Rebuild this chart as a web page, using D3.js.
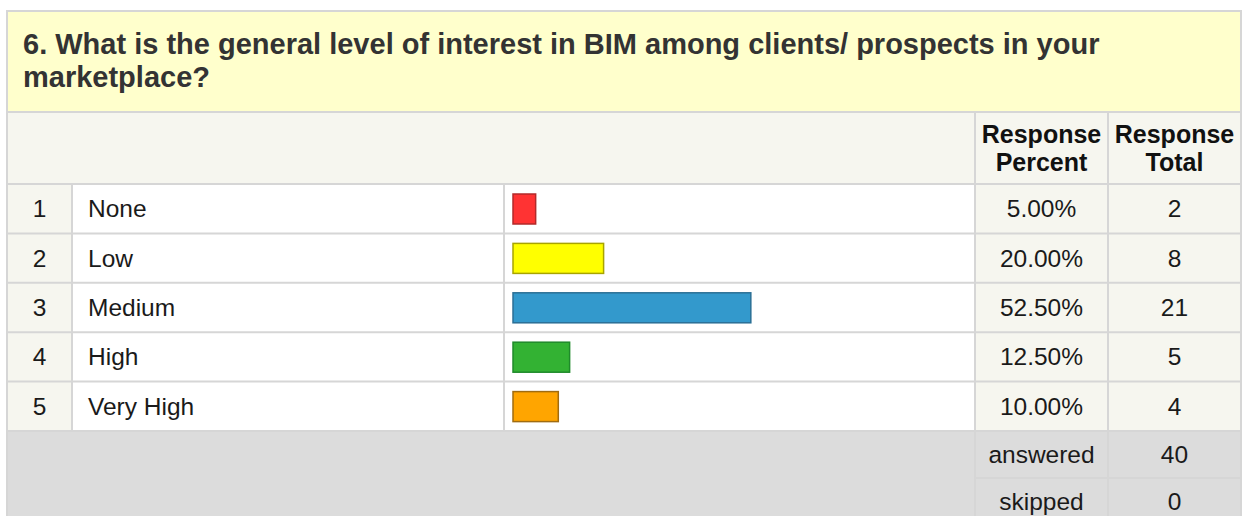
<!DOCTYPE html>
<html><head><meta charset="utf-8">
<script src="https://cdn.jsdelivr.net/npm/d3@7"></script>
<style>html,body{margin:0;padding:0;background:#fff;} svg{display:block;}</style>
</head><body>
<script>
// ---- data ----
const titleLines = ["6. What is the general level of interest in BIM among clients/ prospects in your", "marketplace?"];
const headerPercent = ["Response", "Percent"];
const headerTotal = ["Response", "Total"];
const rowNumbers = [1, 2, 3, 4, 5];
const categories = ["None", "Low", "Medium", "High", "Very High"];
const percents = [5.00, 20.00, 52.50, 12.50, 10.00];
const totals = [2, 8, 21, 5, 4];
const barColors = ["#ff3333", "#ffff00", "#3399cc", "#33b233", "#ffa500"];
const barStrokes = ["#b22a2a", "#a8a400", "#2b6f95", "#1f8a2a", "#a06c10"];
const summaryLabels = ["answered", "skipped"];
const summaryValues = [40, 0];

// ---- layout ----
const W = 1253, H = 516;
const L = 7, R = 1241, T = 11;
const colX = [7, 72, 504, 975, 1108, 1241];
const titleBottom = 112, headerBottom = 184, rowsBottom = 431, summaryRow = 47;
const font = "'Liberation Sans', Arial, sans-serif";
const gridC = "#d6d6d6";
const bodySize = 24.5;

const svg = d3.select("body").append("svg").attr("width", W).attr("height", H);

// title
svg.append("rect").attr("x", L).attr("y", T).attr("width", R - L).attr("height", titleBottom - T)
  .attr("fill", "#ffffcc").attr("stroke", gridC).attr("stroke-width", 2);
svg.append("g").selectAll("text").data(titleLines).join("text")
  .attr("x", 23).attr("y", (d, i) => 54 + i * 33)
  .attr("font-family", font).attr("font-weight", "bold").attr("font-size", 29).attr("fill", "#333")
  .text(d => d);

// header
svg.append("rect").attr("x", L).attr("y", titleBottom).attr("width", R - L).attr("height", headerBottom - titleBottom)
  .attr("fill", "#f6f6ef");

const y = d3.scaleBand().domain(categories).range([headerBottom, rowsBottom]);
const x = d3.scaleLinear().domain([0, 100]).range([513, 966]);

// row backgrounds
const rows = svg.append("g").selectAll("g").data(categories).join("g")
  .attr("transform", d => `translate(0,${y(d)})`);
rows.append("rect").attr("x", colX[0]).attr("width", colX[1] - colX[0]).attr("height", y.bandwidth()).attr("fill", "#f6f6ef");
rows.append("rect").attr("x", colX[1]).attr("width", colX[3] - colX[1]).attr("height", y.bandwidth()).attr("fill", "#ffffff");
rows.append("rect").attr("x", colX[3]).attr("width", colX[5] - colX[3]).attr("height", y.bandwidth()).attr("fill", "#f6f6ef");

// summary background
svg.append("rect").attr("x", L).attr("y", rowsBottom).attr("width", R - L).attr("height", H - rowsBottom + 20).attr("fill", "#dcdcdc");

// grid lines
const grid = svg.append("g").attr("stroke", gridC).attr("stroke-width", 2);
[titleBottom, headerBottom, ...categories.map(c => y(c) + y.bandwidth())].forEach(v =>
  grid.append("line").attr("x1", L).attr("x2", R).attr("y1", v).attr("y2", v));
grid.append("line").attr("x1", colX[3]).attr("x2", R).attr("y1", rowsBottom + summaryRow).attr("y2", rowsBottom + summaryRow);
grid.append("line").attr("x1", colX[1]).attr("x2", colX[1]).attr("y1", headerBottom).attr("y2", rowsBottom);
grid.append("line").attr("x1", colX[2]).attr("x2", colX[2]).attr("y1", headerBottom).attr("y2", rowsBottom);
[colX[3], colX[4]].forEach(v => grid.append("line").attr("x1", v).attr("x2", v).attr("y1", titleBottom).attr("y2", H + 10));
grid.append("line").attr("x1", L).attr("x2", L).attr("y1", T).attr("y2", H + 10);
grid.append("line").attr("x1", R).attr("x2", R).attr("y1", T).attr("y2", H + 10);

// header text
const hdr = (lines, cx) => svg.append("g").selectAll("text").data(lines).join("text")
  .attr("x", cx).attr("y", (d, i) => 143 + i * 28).attr("text-anchor", "middle")
  .attr("font-family", font).attr("font-weight", "bold").attr("font-size", 25).attr("fill", "#111")
  .text(d => d);
hdr(headerPercent, (colX[3] + colX[4]) / 2);
hdr(headerTotal, (colX[4] + colX[5]) / 2);

// row contents
const txt = (sel, xx, anchor, f) => sel.append("text").attr("x", xx).attr("y", y.bandwidth() / 2 + 8.5)
  .attr("text-anchor", anchor).attr("font-family", font).attr("font-size", bodySize).attr("fill", "#1a1a1a").text(f);
txt(rows, (colX[0] + colX[1]) / 2, "middle", (d, i) => rowNumbers[i]);
txt(rows, 88, "start", d => d);
txt(rows, (colX[3] + colX[4]) / 2, "middle", (d, i) => percents[i].toFixed(2) + "%");
txt(rows, (colX[4] + colX[5]) / 2, "middle", (d, i) => totals[i]);

rows.append("rect")
  .attr("x", x(0)).attr("y", 10).attr("height", 30)
  .attr("width", (d, i) => x(percents[i]) - x(0))
  .attr("fill", (d, i) => barColors[i]).attr("stroke", (d, i) => barStrokes[i]).attr("stroke-width", 1.5);

// summary
svg.append("g").selectAll("g").data(summaryLabels).join("g")
  .attr("transform", (d, i) => `translate(0,${rowsBottom + i * summaryRow})`)
  .each(function (d, i) {
    const g = d3.select(this);
    g.append("text").attr("x", (colX[3] + colX[4]) / 2).attr("y", summaryRow / 2 + 8.5).attr("text-anchor", "middle")
      .attr("font-family", font).attr("font-size", bodySize).attr("fill", "#1a1a1a").text(d);
    g.append("text").attr("x", (colX[4] + colX[5]) / 2).attr("y", summaryRow / 2 + 8.5).attr("text-anchor", "middle")
      .attr("font-family", font).attr("font-size", bodySize).attr("fill", "#1a1a1a").text(summaryValues[i]);
  });
</script>
</body></html>
